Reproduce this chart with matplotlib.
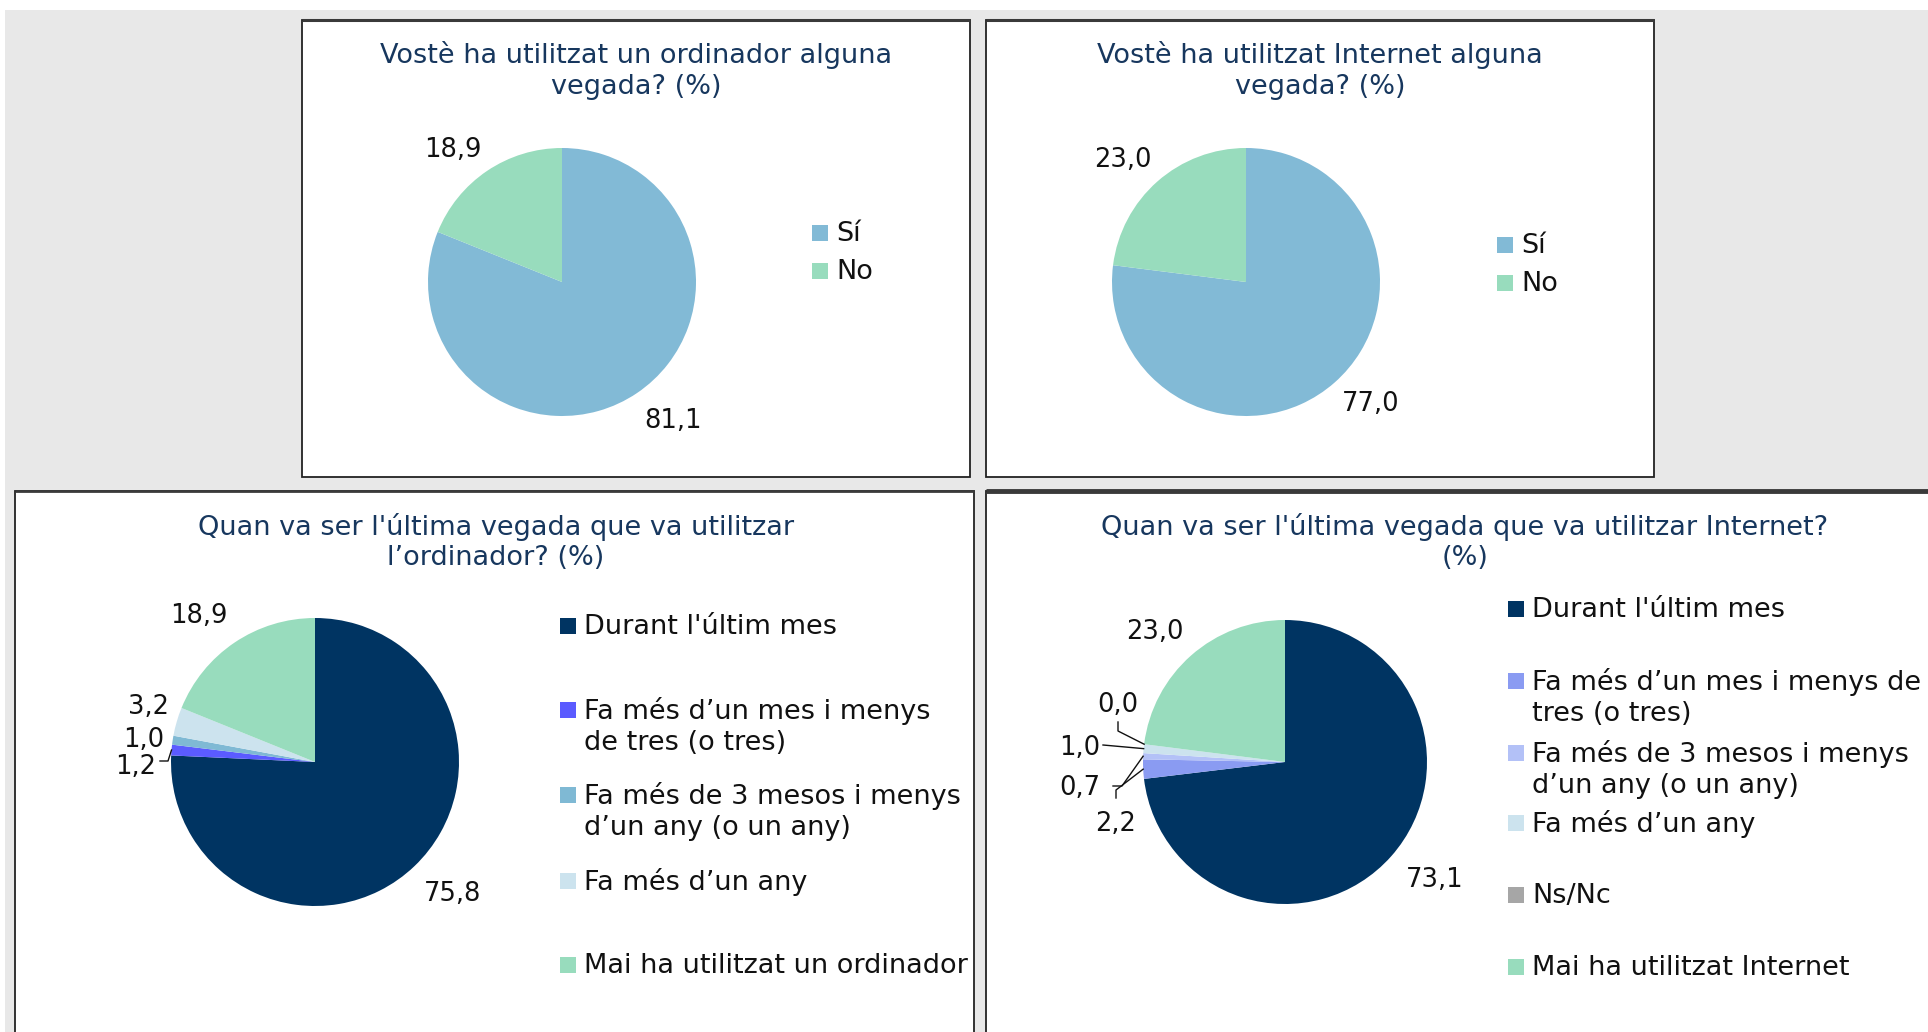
import matplotlib
matplotlib.use("Agg")
import matplotlib.pyplot as plt
from matplotlib.patches import Rectangle
import numpy as np

# ---------------- data ----------------
q1_title = ["Vostè ha utilitzat un ordinador alguna", "vegada? (%)"]
q1_labels = ["Sí", "No"]
q1_values = [81.1, 18.9]

q2_title = ["Vostè ha utilitzat Internet alguna", "vegada? (%)"]
q2_labels = ["Sí", "No"]
q2_values = [77.0, 23.0]

q3_title = ["Quan va ser l'última vegada que va utilitzar", "l\u2019ordinador? (%)"]
q3_labels = [["Durant l'últim mes"],
             ["Fa més d\u2019un mes i menys", "de tres (o tres)"],
             ["Fa més de 3 mesos i menys", "d\u2019un any (o un any)"],
             ["Fa més d\u2019un any"],
             ["Mai ha utilitzat un ordinador"]]
q3_values = [75.8, 1.2, 1.0, 3.2, 18.9]

q4_title = ["Quan va ser l'última vegada que va utilitzar Internet?", "(%)"]
q4_labels = [["Durant l'últim mes"],
             ["Fa més d\u2019un mes i menys de", "tres (o tres)"],
             ["Fa més de 3 mesos i menys", "d\u2019un any (o un any)"],
             ["Fa més d\u2019un any"],
             ["Ns/Nc"],
             ["Mai ha utilitzat Internet"]]
q4_values = [73.1, 2.2, 0.7, 1.0, 0.0, 23.0]

# ---------------- styles ----------------
C_SI = "#82BAD6"
C_NO = "#98DCBD"
C_NAVY = "#003462"
q1_colors = [C_SI, C_NO]
q2_colors = [C_SI, C_NO]
q3_colors = [C_NAVY, "#5B5BFF", "#7FB9D4", "#CCE3EE", C_NO]
q4_colors = [C_NAVY, "#8A9BF2", "#B3C1F7", "#CCE3EE", "#A6A6A6", C_NO]
TITLE_C = "#17375E"
FS_T = 19.5
FS_L = 18.5
FS_LEG = 19.5
TXT_DY = -3  # small downward nudge for text

W, H = 1928, 1032
fig = plt.figure(figsize=(W / 100, H / 100), dpi=100)
fig.patch.set_facecolor("white")
ax = fig.add_axes([0, 0, 1, 1])


def Y(y):
    return H - y


# background
ax.add_patch(Rectangle((5, 0), W - 5, H - 10, facecolor="#E8E8E8", edgecolor="none", zorder=0))


def panel(x0, y0, x1, y1, lw=1.3, top_lw=None):
    ax.add_patch(Rectangle((x0, Y(y1)), x1 - x0, y1 - y0, facecolor="white",
                           edgecolor="#222222", linewidth=lw, zorder=1))
    if top_lw:
        ax.plot([x0, x1], [Y(y0), Y(y0)], color="#3A3A3A", lw=top_lw, zorder=2,
                solid_capstyle="butt")


panel(302, 20, 970, 477, top_lw=2.2)
panel(986, 20, 1654, 477, top_lw=2.2)
panel(15, 491, 974, 1040, top_lw=2.0)
panel(986, 491, 1940, 1040, top_lw=3.5)


def title(lines, cx, y0, dy):
    for i, t in enumerate(lines):
        ax.text(cx, Y(y0 + i * dy) + TXT_DY + 1, t, ha="center", va="center", fontsize=FS_T,
                color=TITLE_C, zorder=5)


def fmt(v):
    return f"{v:.1f}".replace(".", ",")


def draw_pie(values, colors, cx, cy, r):
    ax.pie(values, colors=colors, startangle=90, counterclock=False,
           center=(cx, Y(cy)), radius=r, frame=True,
           wedgeprops=dict(linewidth=0, antialiased=True))
    tot = sum(values)
    cum = np.cumsum([0] + list(values))
    mids = [90 - 360 * (cum[i] + values[i] / 2) / tot for i in range(len(values))]
    return mids


def edge_pt(cx, cy, r, ang):
    a = np.deg2rad(ang)
    return cx + r * np.cos(a), Y(cy) + r * np.sin(a)


def lab_at(cx, cy, r, ang, dist, v):
    x, y = edge_pt(cx, cy, r * dist, ang)
    ax.text(x, y + TXT_DY, fmt(v), ha="center", va="center", fontsize=FS_L, color="#111111", zorder=5)


def legend(items, colors, mx, ys, dy, sq=16):
    for lines, c, y in zip(items, colors, ys):
        ax.add_patch(Rectangle((mx, Y(y) - sq / 2), sq, sq, facecolor=c, edgecolor="none", zorder=5))
        for i, t in enumerate(lines):
            ax.text(mx + sq + 8, Y(y + i * dy) - 1, t, ha="left", va="center",
                    fontsize=FS_LEG, color="#111111", zorder=5)


# ---- panel 1 ----
title(q1_title, 636, 53, 32)
m = draw_pie(q1_values, q1_colors, 562, 282, 134)
lab_at(562, 282, 134, m[0] + 5, 1.31, q1_values[0])
lab_at(562, 282, 134, m[1] + 5, 1.30, q1_values[1])
legend([[s] for s in q1_labels], q1_colors, 812, [233, 271], 32)

# ---- panel 2 ----
title(q2_title, 1320, 53, 32)
m = draw_pie(q2_values, q2_colors, 1246, 282, 134)
lab_at(1246, 282, 134, m[0] + 5, 1.29, q2_values[0])
lab_at(1246, 282, 134, m[1] + 3, 1.31, q2_values[1])
legend([[s] for s in q2_labels], q2_colors, 1497, [245, 283], 32)

# ---- panel 3 ----
title(q3_title, 496, 525, 31)
cx3, cy3, r3 = 315, 762, 144
m = draw_pie(q3_values, q3_colors, cx3, cy3, r3)
lab_at(cx3, cy3, r3, m[0] + 3, 1.31, q3_values[0])
lab_at(cx3, cy3, r3, m[4] + 4, 1.31, q3_values[4])
small3 = {3: (-166, 57), 2: (-171, 24), 1: (-179, -3)}
for k, (dx, dy) in small3.items():
    ax.text(cx3 + dx, Y(cy3) + dy + TXT_DY + 1, fmt(q3_values[k]), ha="center", va="center",
            fontsize=FS_L, color="#111111", zorder=5)
ex, ey = edge_pt(cx3, cy3, r3, m[1])
ax.plot([cx3 - 155, cx3 - 147, ex], [Y(cy3) + 1, Y(cy3) + 1, ey], color="#111111", lw=1, zorder=4)
legend(q3_labels, q3_colors, 560, [626, 710, 795, 881, 965], 32)

# ---- panel 4 ----
title(q4_title, 1465, 525, 31)
cx4, cy4, r4 = 1285, 762, 142
m = draw_pie(q4_values, q4_colors, cx4, cy4, r4)
lab_at(cx4, cy4, r4, m[0] + 4, 1.33, q4_values[0])
lab_at(cx4, cy4, r4, m[5] + 3, 1.31, q4_values[5])
small4 = {4: (-167, 59), 3: (-205, 16), 2: (-205, -24), 1: (-169, -60)}
for k, (dx, dy) in small4.items():
    ax.text(cx4 + dx, Y(cy4) + dy + TXT_DY + 1, fmt(q4_values[k]), ha="center", va="center",
            fontsize=FS_L, color="#111111", zorder=5)
leaders4 = {4: [(-167, 40), (-167, 31)],
            3: [(-182, 17)],
            2: [(-172, -24), (-163, -24)],
            1: [(-169, -36), (-169, -28)]}
for k, pts in leaders4.items():
    ex, ey = edge_pt(cx4, cy4, r4, m[k])
    xs = [cx4 + p[0] for p in pts] + [ex]
    ys = [Y(cy4) + p[1] for p in pts] + [ey]
    ax.plot(xs, ys, color="#111111", lw=1, zorder=4)
legend(q4_labels, q4_colors, 1508, [609, 681, 753, 823, 895, 967], 32)

ax.set_xlim(0, W)
ax.set_ylim(0, H)
ax.set_aspect("auto")
ax.axis("off")
fig.savefig("out.png", dpi=100, facecolor=fig.get_facecolor())
